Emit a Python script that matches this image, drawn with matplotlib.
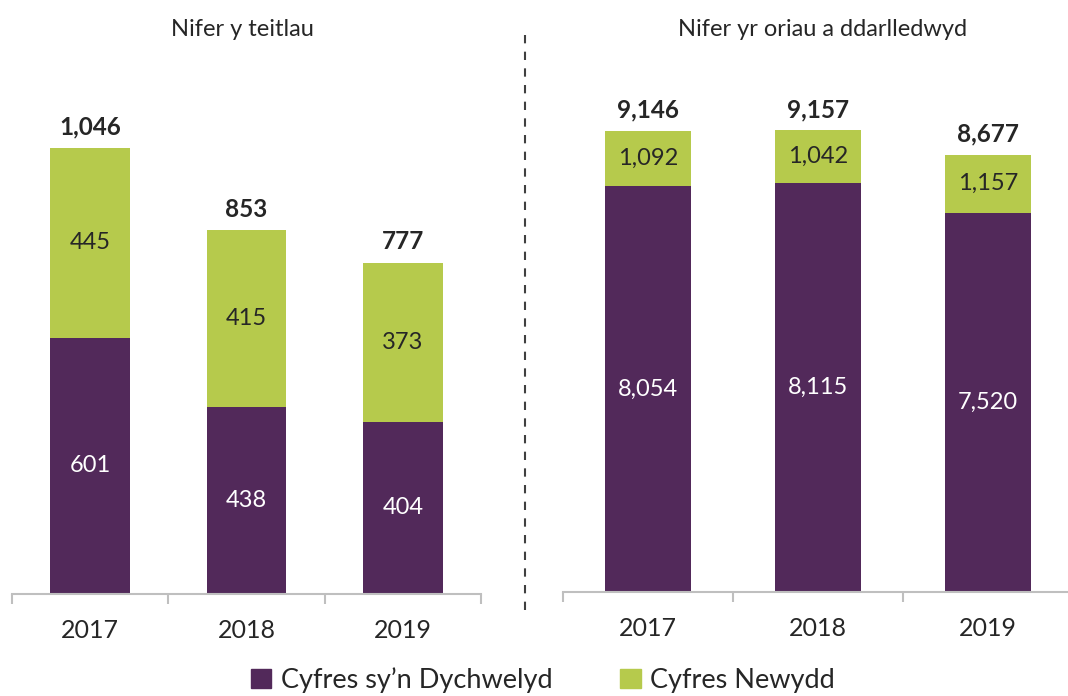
import matplotlib.pyplot as plt
import matplotlib.patches as mpatches
from matplotlib.lines import Line2D

plt.rcParams['font.family'] = ['Lato', 'DejaVu Sans']

# data
years = ['2017', '2018', '2019']
teitlau_dychwelyd = [601, 438, 404]
teitlau_newydd = [445, 415, 373]
oriau_dychwelyd = [8054, 8115, 7520]
oriau_newydd = [1092, 1042, 1157]

title_left = 'Nifer y teitlau'
title_right = 'Nifer yr oriau a ddarlledwyd'
legend_labels = ['Cyfres sy\u2019n Dychwelyd', 'Cyfres Newydd']

purple = '#52295A'
green = '#B6CA4C'
axis_grey = '#BFBFBF'
text_col = '#262626'

W, H = 1068, 696
fig = plt.figure(figsize=(W / 100, H / 100), dpi=100)


def px_axes(x0, x1, ybot, ytop):
    return fig.add_axes([x0 / W, (H - ybot) / H, (x1 - x0) / W, (ybot - ytop) / H])


def draw_panel(ax, bottom, top, ymax, title, title_x):
    x = range(len(years))
    ax.bar(x, bottom, width=0.51, color=purple)
    ax.bar(x, top, width=0.51, bottom=bottom, color=green)
    ax.set_xlim(-0.5, 2.5)
    ax.set_ylim(0, ymax)
    for i in x:
        tot = bottom[i] + top[i]
        ax.text(i, bottom[i] / 2, f'{bottom[i]:,}', ha='center', va='center',
                color='white', fontsize=17)
        ax.text(i, bottom[i] + top[i] / 2, f'{top[i]:,}', ha='center', va='center',
                color=text_col, fontsize=17)
        ax.annotate(f'{tot:,}', (i, tot), xytext=(0, 15), textcoords='offset points',
                    ha='center', va='center', fontsize=17.5, fontweight='bold',
                    color=text_col)
    for s in ['top', 'right', 'left']:
        ax.spines[s].set_visible(False)
    ax.spines['bottom'].set_color(axis_grey)
    ax.spines['bottom'].set_linewidth(1.5)
    ax.set_yticks([])
    ax.set_xticks(list(x))
    ax.set_xticklabels(years, fontsize=18, color=text_col)
    ax.set_xticks([-0.5, 0.5, 1.5, 2.5], minor=True)
    ax.tick_params(axis='x', which='major', length=0, pad=18)
    ax.tick_params(axis='x', which='minor', length=7, width=1.5, color=axis_grey)
    fig.text(title_x / W, 1 - 30 / H, title, ha='center', va='center',
             fontsize=17, color=text_col)


ax1 = px_axes(12, 481, 594, 60)
draw_panel(ax1, teitlau_dychwelyd, teitlau_newydd, (594 - 60) / 0.4265,
           title_left, 242)

ax2 = px_axes(563, 1073, 592, 60)
draw_panel(ax2, oriau_dychwelyd, oriau_newydd, (592 - 60) / 0.0504,
           title_right, 823)

# dashed divider
fig.add_artist(Line2D([525 / W, 525 / W], [1 - 35 / H, 1 - 612 / H],
                      color='#404040', linestyle=(0, (4, 4)), linewidth=1.5))

handles = [mpatches.Patch(color=purple), mpatches.Patch(color=green)]
fig.legend(handles, legend_labels, loc='center', bbox_to_anchor=(543 / W, 1 - 680 / H),
           ncol=2, frameon=False, fontsize=19.5, handlelength=0.75, handleheight=0.75,
           handletextpad=0.35, columnspacing=2.5, labelcolor=text_col,
           borderpad=0.1)

fig.savefig('out.png', dpi=100)
